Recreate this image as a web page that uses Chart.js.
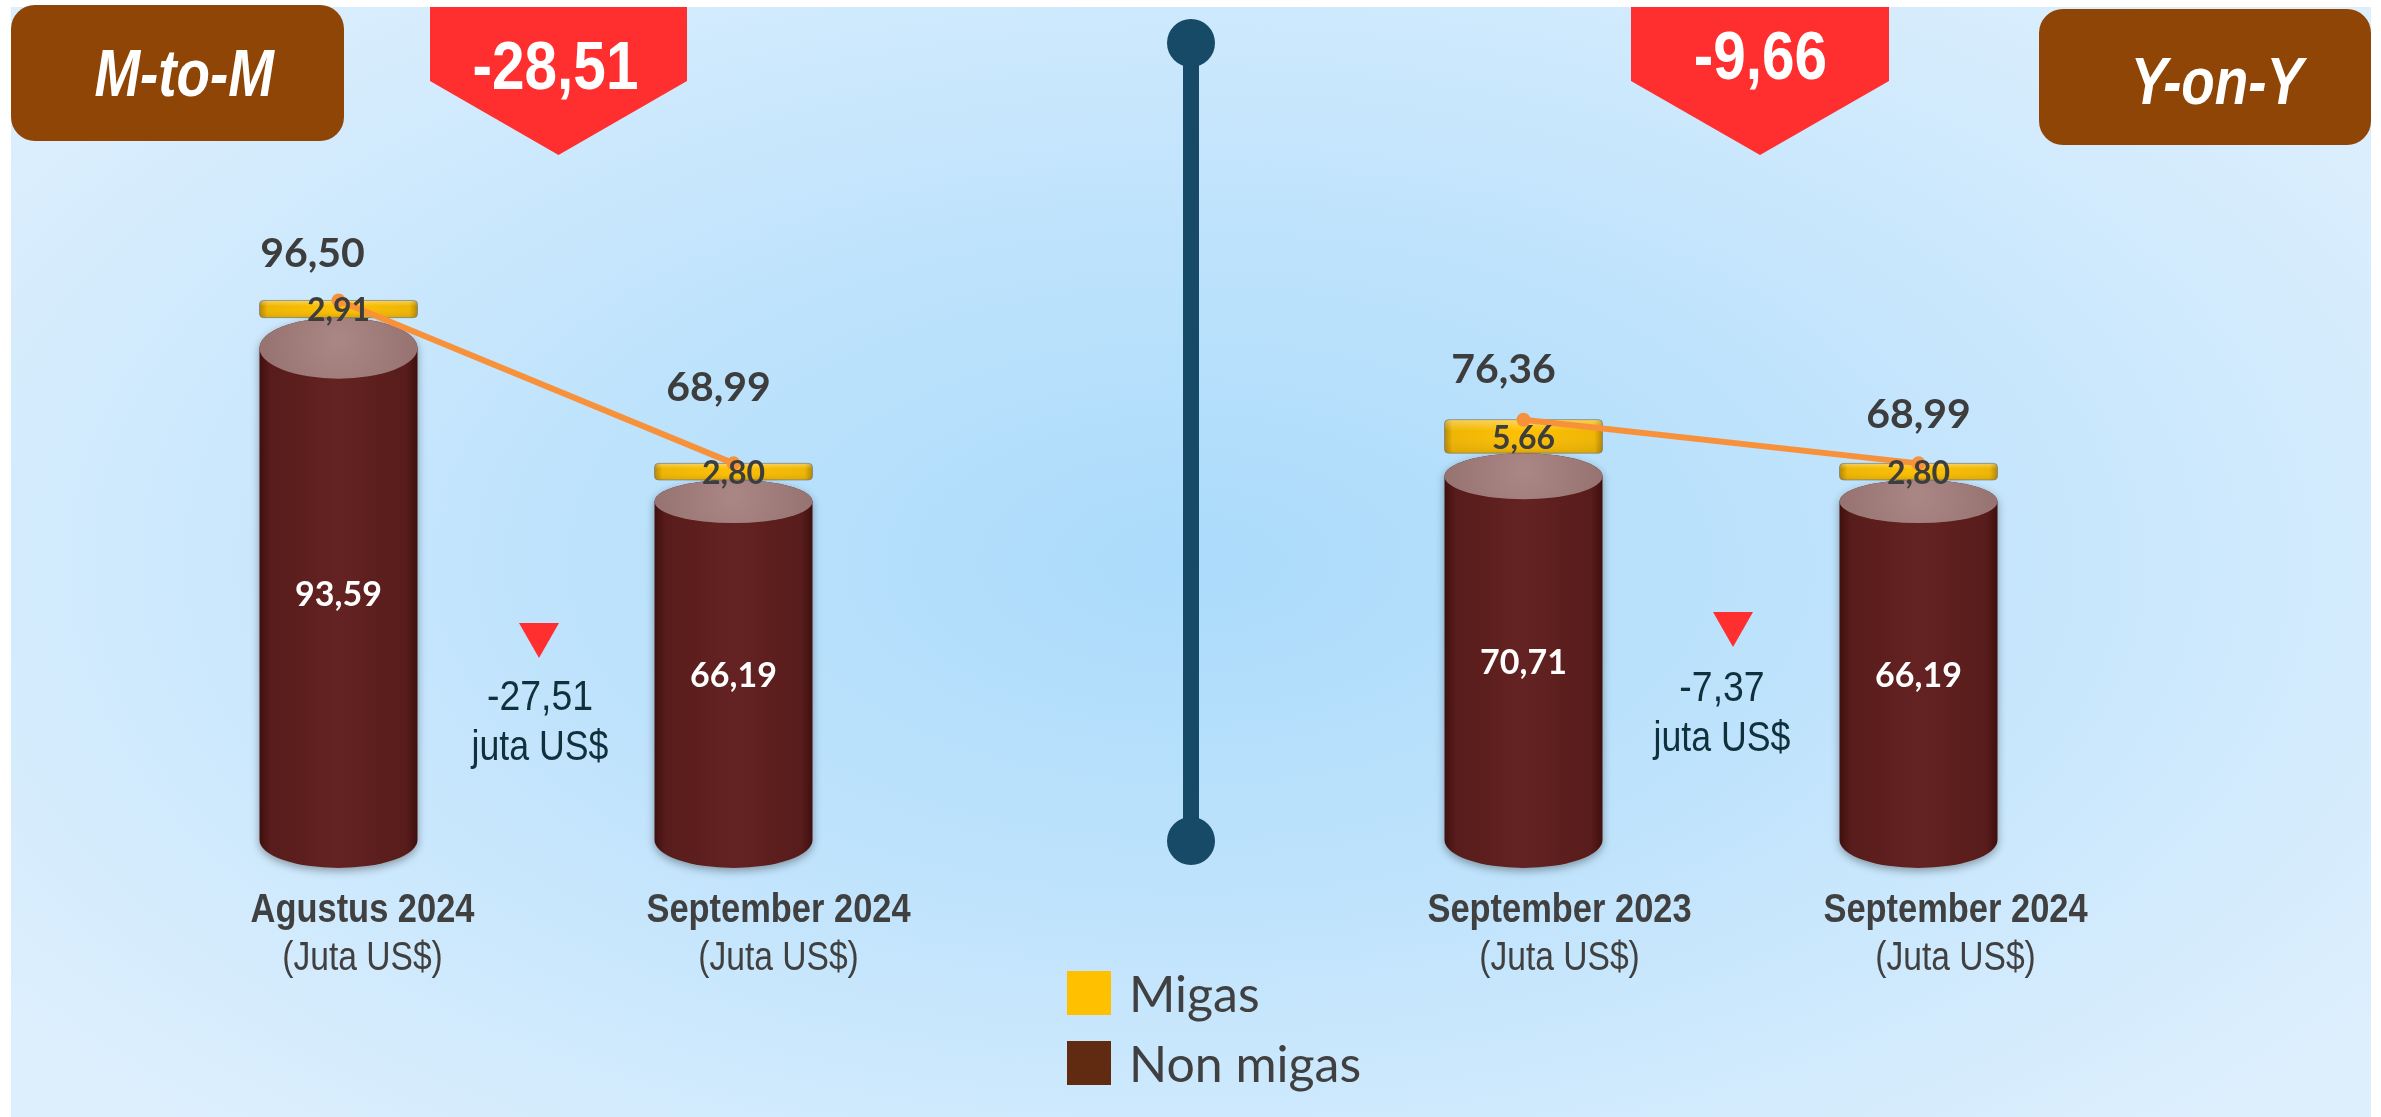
<!DOCTYPE html>
<html>
<head>
<meta charset="utf-8">
<script src="https://cdn.jsdelivr.net/npm/chart.js@4.4.1/dist/chart.umd.min.js"></script>
<style>
    body { margin: 0; width: 2381px; height: 1117px; overflow: hidden; background: #ffffff; position: relative; }
    #panel {
        position: absolute; left: 11px; top: 7px; width: 2360px; height: 1110px;
        background: radial-gradient(ellipse 62% 70% at 50% 50%, #abdbfb 0%, #bfe3fc 45%, #d3ebfd 80%, #ddeffd 100%);
    }
    #chart { position: absolute; left: 0; top: 0; }
    .period {
        position: absolute; background: #8e4506; border-radius: 24px;
        display: flex; align-items: center; justify-content: center; box-sizing: border-box;
        color: #fff; font: italic bold 66px "Liberation Sans", Arial, sans-serif;
    }
    .period span { display: inline-block; transform: scaleX(0.83); }
    .pct {
        position: absolute; background: #ff2e2f;
        clip-path: polygon(0 0, 100% 0, 100% 50%, 50% 100%, 0 50%);
    }
    .pct span {
        position: absolute; left: 0; right: 0; height: 100px; line-height: 100px; text-align: center;
        color: #fff; font: bold 68px "Liberation Sans", Arial, sans-serif;
        transform: scaleX(0.86);
    }
    .divider { position: absolute; background: #164a67; }
    .legend { position: absolute; left: 1067px; top: 958px; font: 50px Lato, sans-serif; color: #404040; }
    .legend div { display: flex; align-items: center; height: 70px; }
    .legend i { display: inline-block; width: 44px; height: 44px; margin-right: 18px; }
</style>
</head>
<body>
<div id="panel"></div>
<div class="divider" style="left:1183px; top:43px; width:16px; height:798px;"></div>
<div class="divider" style="left:1167px; top:19px; width:48px; height:48px; border-radius:50%;"></div>
<div class="divider" style="left:1167px; top:817px; width:48px; height:48px; border-radius:50%;"></div>
<canvas id="chart" width="2381" height="1117"></canvas>
<div class="legend" id="legend"></div>

<script>
const categories = ['Agustus 2024', 'September 2024', '', 'September 2023', 'September 2024'];
const unitLabel = '(Juta US$)';
const nonMigas = [93.59, 66.19, null, 70.71, 66.19];
const migas = [2.91, 2.80, null, 5.66, 2.80];
const totals = [96.50, 68.99, null, 76.36, 68.99];

const periodNames = ['M-to-M', 'Y-on-Y'];
const pctValues = [-28.51, -9.66];
const diffValues = [-27.51, -7.37];
const diffUnit = 'juta US$';
const diffPairs = [[0, 1], [3, 4]];

// layout bits (pixels)
const periodBoxes = [
    { left: 11, top: 5, width: 333, height: 136, padL: 14, padT: 0 },
    { left: 2039, top: 9, width: 332, height: 136, padL: 24, padT: 8 }
];
const pctBoxes = [
    { left: 430, width: 257, textTop: 19, textShift: -6 },
    { left: 1631, width: 258, textTop: 9, textShift: 1 }
];
const totalLabelOffset = [[-26, -47], [-15, -76], null, [-20, -50], [0, -49]];
const xLabelShift = [24, 45, 0, 36, 37];
const diffLayout = [
    { tri: 3, text: 4, triTop: 623, val: 710, unit: 760 },
    { tri: 12, text: 1, triTop: 612, val: 701, unit: 751 }
];

const fmt = v => v.toFixed(2).replace('.', ',');
const sans = '"Liberation Sans", Arial, sans-serif';

periodNames.forEach((name, i) => {
    const b = periodBoxes[i];
    const el = document.createElement('div');
    el.className = 'period';
    el.style.cssText = `left:${b.left}px;top:${b.top}px;width:${b.width}px;height:${b.height}px;padding-left:${b.padL}px;padding-top:${b.padT}px;`;
    el.innerHTML = `<span>${name}</span>`;
    document.body.appendChild(el);

    const p = pctBoxes[i];
    const pe = document.createElement('div');
    pe.className = 'pct';
    pe.style.cssText = `left:${p.left}px;top:7px;width:${p.width}px;height:148px;`;
    pe.innerHTML = `<span style="top:${p.textTop}px;margin-left:${p.textShift}px">${fmt(pctValues[i])}</span>`;
    document.body.appendChild(pe);
});

// condensed text: squeeze a normal face horizontally
function narrowText(ctx, text, x, y, font, sx) {
    ctx.save();
    ctx.font = font;
    ctx.translate(x, y);
    ctx.scale(sx, 1);
    ctx.fillText(text, 0, 0);
    ctx.restore();
}

function drawCylinder(ctx, p) {
    const w = p.width, r = w / 2, x0 = p.x - r, x1 = p.x + r;
    // top face gets rounder the taller the column (3D perspective look)
    const eh = Math.max(16, (p.base - p.y) * 0.055);
    const ebh = 28;
    const topC = p.y + eh, botC = p.base - ebh - 4;

    const g = ctx.createLinearGradient(x0, 0, x1, 0);
    g.addColorStop(0, '#3f100e');
    g.addColorStop(0.07, '#571c1b');
    g.addColorStop(0.5, '#642322');
    g.addColorStop(0.93, '#571c1b');
    g.addColorStop(1, '#3f100e');

    ctx.save();
    ctx.shadowColor = 'rgba(0,0,0,0.35)';
    ctx.shadowBlur = 8;
    ctx.shadowOffsetY = 3;
    ctx.beginPath();
    ctx.moveTo(x0, topC);
    ctx.lineTo(x0, botC);
    ctx.ellipse(p.x, botC, r, ebh, 0, Math.PI, 0, true);
    ctx.lineTo(x1, topC);
    ctx.ellipse(p.x, topC, r, eh, 0, 0, Math.PI, true);
    ctx.closePath();
    ctx.fillStyle = g;
    ctx.fill();
    ctx.restore();

    const tg = ctx.createRadialGradient(p.x, topC - eh * 0.3, 5, p.x, topC, r);
    tg.addColorStop(0, '#a98684');
    tg.addColorStop(1, '#967270');
    ctx.beginPath();
    ctx.ellipse(p.x, topC, r, eh, 0, 0, Math.PI * 2);
    ctx.fillStyle = tg;
    ctx.fill();
}

function drawDisk(ctx, p) {
    const w = p.width, x0 = p.x - w / 2, h = p.base - p.y;
    const g = ctx.createLinearGradient(x0, 0, x0 + w, 0);
    g.addColorStop(0, '#b38600');
    g.addColorStop(0.05, '#efb500');
    g.addColorStop(0.5, '#ffc000');
    g.addColorStop(0.95, '#efb500');
    g.addColorStop(1, '#b38600');
    ctx.save();
    ctx.beginPath();
    ctx.roundRect(x0, p.y, w, h, 4);
    ctx.fillStyle = g;
    ctx.fill();
    const hl = ctx.createLinearGradient(0, p.y, 0, p.y + h);
    hl.addColorStop(0, 'rgba(255,255,255,0.35)');
    hl.addColorStop(0.35, 'rgba(255,255,255,0)');
    hl.addColorStop(1, 'rgba(120,80,0,0.15)');
    ctx.fillStyle = hl;
    ctx.fill();
    ctx.strokeStyle = 'rgba(110,125,135,0.7)';
    ctx.lineWidth = 1;
    ctx.stroke();
    ctx.restore();
}

const cylinderPlugin = {
    id: 'cylinders',
    beforeDatasetDraw(chart, args) {
        const ds = chart.data.datasets[args.index];
        if (ds.type === 'line') return;
        const ctx = chart.ctx;
        args.meta.data.forEach((el, i) => {
            if (ds.data[i] == null) return;
            const p = el.getProps(['x', 'y', 'base', 'width'], true);
            if (ds.shape === 'cylinder') drawCylinder(ctx, p);
            else drawDisk(ctx, p);
        });
        return false;
    }
};

const labelPlugin = {
    id: 'labels',
    afterDatasetsDraw(chart) {
        const ctx = chart.ctx;
        const x = chart.scales.x;
        const bottom = chart.chartArea.bottom;
        const nonMeta = chart.getDatasetMeta(1);
        const migMeta = chart.getDatasetMeta(2);
        const lineMeta = chart.getDatasetMeta(0);
        ctx.save();
        ctx.textAlign = 'center';

        categories.forEach((c, i) => {
            if (totals[i] == null) return;
            const nb = nonMeta.data[i], mb = migMeta.data[i], pt = lineMeta.data[i];

            ctx.textBaseline = 'middle';
            ctx.fillStyle = '#ffffff';
            ctx.font = 'bold 34px Lato';
            ctx.fillText(fmt(nonMigas[i]), nb.x, (nb.y + nb.base) / 2);

            ctx.fillStyle = '#3d3d3d';
            ctx.font = 'bold 32px Lato';
            ctx.fillText(fmt(migas[i]), mb.x, (mb.y + mb.base) / 2 + 2);

            ctx.font = 'bold 41px Lato';
            const off = totalLabelOffset[i];
            ctx.fillText(fmt(totals[i]), pt.x + off[0], pt.y + off[1]);

            const cx = x.getPixelForValue(i) + xLabelShift[i];
            ctx.textBaseline = 'alphabetic';
            ctx.fillStyle = '#404040';
            narrowText(ctx, c, cx, bottom + 50, 'bold 41px ' + sans, 0.84);
            narrowText(ctx, unitLabel, cx, bottom + 98, '40px ' + sans, 0.84);
        });

        diffValues.forEach((d, k) => {
            const [a, b] = diffPairs[k];
            const L = diffLayout[k];
            const mx = (x.getPixelForValue(a) + x.getPixelForValue(b)) / 2;
            const tx = mx + L.tri;
            ctx.beginPath();
            ctx.moveTo(tx - 20, L.triTop);
            ctx.lineTo(tx + 20, L.triTop);
            ctx.lineTo(tx, L.triTop + 35);
            ctx.closePath();
            ctx.fillStyle = '#ff2e2f';
            ctx.fill();

            ctx.fillStyle = '#10303c';
            ctx.textBaseline = 'alphabetic';
            narrowText(ctx, fmt(d), mx + L.text, L.val, '43px ' + sans, 0.87);
            narrowText(ctx, diffUnit, mx + L.text, L.unit, '43px ' + sans, 0.83);
        });
        ctx.restore();
    }
};

const chart = new Chart(document.getElementById('chart').getContext('2d'), {
    type: 'bar',
    data: {
        labels: categories,
        datasets: [
            {
                type: 'line',
                label: 'Total',
                data: totals,
                stack: 'total',
                borderColor: '#f7923a',
                backgroundColor: '#f7923a',
                borderWidth: 6,
                pointRadius: 7,
                pointBorderWidth: 0,
                pointBackgroundColor: '#f7923a',
                spanGaps: false,
                order: 0
            },
            {
                label: 'Non migas',
                data: nonMigas,
                stack: 'trade',
                shape: 'cylinder',
                backgroundColor: '#612b12',
                order: 1
            },
            {
                label: 'Migas',
                data: migas,
                stack: 'trade',
                shape: 'disk',
                backgroundColor: '#ffc000',
                order: 2
            }
        ]
    },
    options: {
        responsive: false,
        animation: false,
        layout: { padding: { left: 141, right: 265, top: 102, bottom: 245 } },
        datasets: { bar: { categoryPercentage: 1, barPercentage: 0.4 } },
        plugins: {
            legend: { display: false },
            tooltip: { enabled: false }
        },
        scales: {
            x: { display: false, stacked: true },
            y: { display: false, stacked: true, min: 0, max: 130 }
        }
    },
    plugins: [cylinderPlugin, labelPlugin]
});

const legend = document.getElementById('legend');
['Migas', 'Non migas'].forEach(name => {
    const ds = chart.data.datasets.find(d => d.label === name);
    const row = document.createElement('div');
    row.innerHTML = `<i style="background:${ds.backgroundColor}"></i><span>${ds.label}</span>`;
    legend.appendChild(row);
});
</script>
</body>
</html>
